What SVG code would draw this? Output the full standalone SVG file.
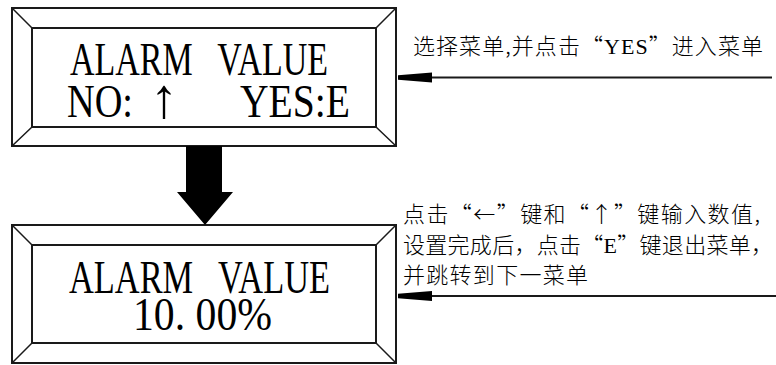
<svg xmlns="http://www.w3.org/2000/svg" width="776" height="365" viewBox="0 0 776 365">
<style>
.frame{fill:#fff;stroke:#1a1a1a;stroke-width:2}
.bev{stroke:#1a1a1a;stroke-width:1.5;fill:none}
.lcd{font-family:"Liberation Serif","Times New Roman",serif;font-size:47px;fill:#000}
.ws{word-spacing:23px}
.note{font-family:"Noto Sans CJK SC","Noto Sans CJK JP",sans-serif;font-size:22px;font-weight:300;fill:#000}
.lat{font-family:"Liberation Serif",serif;font-weight:400}
.conn{stroke:#1a1a1a;stroke-width:2;fill:none}
</style>
<defs>
<marker id="ah" markerUnits="userSpaceOnUse" viewBox="-36 -6 37 12" refX="0" refY="0" markerWidth="37" markerHeight="12" orient="auto" overflow="visible">
<path d="M0,-2.3 L0,2.3 L-34,5 L-34,-5 Z" fill="#000"/>
</marker>
</defs>
<g id="box1">
<rect class="frame" x="12" y="8" width="384" height="138"/>
<rect class="frame" x="32" y="28" width="344" height="99"/>
<path class="bev" d="M12,8 L32,28 M396,8 L376,28 M12,146 L32,127 M396,146 L376,127"/>
<text class="lcd ws" x="70" y="75" textLength="258" lengthAdjust="spacingAndGlyphs">ALARM VALUE</text>
<text class="lcd" x="67" y="117" textLength="66" lengthAdjust="spacingAndGlyphs">NO:</text>
<text class="lcd" x="164" y="117" text-anchor="middle" style="font-size:56px">↑</text>
<text class="lcd" x="240" y="117" textLength="110" lengthAdjust="spacingAndGlyphs">YES:E</text>
</g>
<g id="box2">
<rect class="frame" x="12" y="225" width="384" height="138"/>
<rect class="frame" x="32" y="245" width="344" height="98"/>
<path class="bev" d="M12,225 L32,245 M396,225 L376,245 M12,363 L32,343 M396,363 L376,343"/>
<text class="lcd ws" x="69" y="293" textLength="261" lengthAdjust="spacingAndGlyphs">ALARM VALUE</text>
<text class="lcd" x="133" y="330" textLength="139" lengthAdjust="spacingAndGlyphs">10. 00%</text>
</g>
<g id="note1">
<text class="note" x="413" y="54" textLength="350" lengthAdjust="spacing">选择菜单,并点击“<tspan class="lat">YES</tspan>”进入菜单</text>
</g>
<g id="note2">
<text class="note" x="403" y="222" textLength="357" lengthAdjust="spacing">点击“←”键和“↑”键输入数值,</text>
<text class="note" x="403" y="253" textLength="370" lengthAdjust="spacing">设置完成后，点击“<tspan class="lat">E</tspan>”键退出菜单，</text>
<text class="note" x="403" y="283" textLength="185" lengthAdjust="spacing">并跳转到下一菜单</text>
</g>
<g id="connectors">
<polygon points="186,146 222,146 222,192 233,192 205,225 177,192 186,192" fill="#000"/>
<line class="conn" x1="772" y1="77.5" x2="398" y2="77.5" marker-end="url(#ah)"/>
<line class="conn" x1="776" y1="296" x2="398" y2="296" marker-end="url(#ah)"/>
</g>
</svg>
